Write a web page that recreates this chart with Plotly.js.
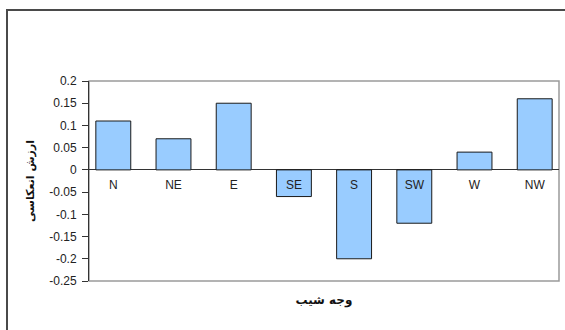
<!DOCTYPE html>
<html>
<head>
<meta charset="utf-8">
<script src="https://cdn.plot.ly/plotly-3.0.1.min.js"></script>
<style>
  html, body { margin: 0; padding: 0; background: #fff; }
  #wrap { position: relative; width: 565px; height: 330px; overflow: hidden; }
  #chart { position: absolute; left: 0; top: 0; width: 565px; height: 330px; }
  #frame {
    position: absolute; left: 6px; top: 9px; width: 600px; height: 400px;
    border-left: 2px solid #4a4a4a; border-top: 2px solid #4a4a4a;
    pointer-events: none;
  }
</style>
</head>
<body>
<div id="wrap">
  <div id="chart"></div>
  <div id="frame"></div>
</div>
<script>
// Slope aspects and their reflectance values
const aspects = ['N', 'NE', 'E', 'SE', 'S', 'SW', 'W', 'NW'];
const reflectance = [0.11, 0.07, 0.15, -0.06, -0.2, -0.12, 0.04, 0.16];

// Value axis ticks
const yTickVals = [0.2, 0.15, 0.1, 0.05, 0, -0.05, -0.1, -0.15, -0.2, -0.25];
const yTickText = ['0.2', '0.15', '0.1', '0.05', '0', '-0.05', '-0.1', '-0.15', '-0.2', '-0.25'];

const yMin = -0.25, yMax = 0.2;
const baseFont = 'Arial, "Liberation Sans", "DejaVu Sans", sans-serif';
const titleFont = '"DejaVu Sans", Arial, sans-serif';

const trace = {
  type: 'bar',
  x: aspects.map((_, i) => i),
  y: reflectance,
  marker: { color: '#99ccff', line: { color: '#1a1a1a', width: 1 } },
  hoverinfo: 'skip'
};

// Category labels sit just under the zero line
const labelAxis = {
  type: 'scatter', x: [0], y: [0], xaxis: 'x2', mode: 'markers',
  marker: { opacity: 0 }, hoverinfo: 'skip', showlegend: false
};

const layout = {
  width: 565, height: 330,
  margin: { l: 89, r: 6, t: 81, b: 49 },
  paper_bgcolor: '#ffffff', plot_bgcolor: '#ffffff',
  showlegend: false,
  bargap: 0.42,
  font: { family: baseFont, size: 12, color: '#222' },
  xaxis: {
    range: [-0.4035, 7.4035],
    showticklabels: false, ticks: '', showgrid: false, zeroline: false,
    showline: false, fixedrange: true,
    title: { text: '<b>وجه شیب</b>', font: { family: titleFont, size: 12, color: '#111' }, standoff: 14 }
  },
  xaxis2: {
    overlaying: 'x', anchor: 'free',
    position: (0 - yMin) / (yMax - yMin),
    range: [-0.4035, 7.4035],
    tickmode: 'array', tickvals: aspects.map((_, i) => i), ticktext: aspects,
    ticks: '', ticklabelstandoff: 6,
    showgrid: false, zeroline: false, showline: false,
    tickfont: { family: baseFont, size: 12, color: '#222' }
  },
  yaxis: {
    range: [yMin, yMax],
    tickmode: 'array', tickvals: yTickVals, ticktext: yTickText,
    ticks: 'outside', ticklen: 6, tickcolor: '#333', tickwidth: 1,
    ticklabelstandoff: 3,
    showline: true, linecolor: '#333', linewidth: 1,
    showgrid: false,
    zeroline: true, zerolinecolor: '#333', zerolinewidth: 1,
    tickfont: { family: baseFont, size: 12, color: '#222' },
    title: { text: '<b>ارزش انعکاسی</b>', font: { family: titleFont, size: 11, color: '#111' }, standoff: 12 }
  },
  shapes: [{
    type: 'rect', xref: 'paper', yref: 'paper', x0: 0, x1: 1, y0: 0, y1: 1,
    line: { color: '#9a9a9a', width: 1.5 }, layer: 'below'
  }]
};

Plotly.newPlot('chart', [trace, labelAxis], layout, { displayModeBar: false, staticPlot: true });
</script>
</body>
</html>
